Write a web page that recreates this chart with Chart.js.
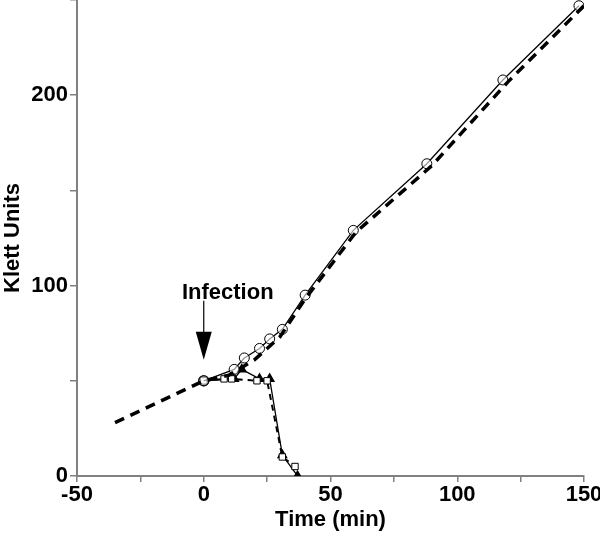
<!DOCTYPE html>
<html>
<head>
<meta charset="utf-8">
<script src="https://cdn.jsdelivr.net/npm/chart.js@4/dist/chart.umd.min.js"></script>
<style>
  html, body { margin: 0; padding: 0; background: #fff; }
  #wrap { width: 600px; height: 537px; }
</style>
</head>
<body>
<div id="wrap"><canvas id="klettChart"></canvas></div>
<script>
// uninfected control (dashed)
const controlTime = [-35, 0, 10, 20, 30, 40, 60, 90, 120, 150];
const controlKlett = [28, 50, 53, 61, 73, 93, 128, 163, 207, 247];

// infected, no lysis (open circles)
const circleTime = [0, 12, 16, 22, 26, 31, 40, 59, 88, 118, 148];
const circleKlett = [50, 56, 62, 67, 72, 77, 95, 129, 164, 208, 247];

// infected, lysis (open squares)
const squareTime = [0, 8, 11, 21, 25, 31, 36];
const squareKlett = [50, 51, 51, 50, 50, 10, 5];

// infected, lysis (filled triangles)
const triangleTime = [0, 12, 15, 22, 26, 31, 37];
const triangleKlett = [50, 51, 56, 51, 51, 11, 0];

const xTicks = [-50, 0, 50, 100, 150];
const yTicks = [0, 100, 200];

// arrow marking infection, in data units
const infectionTime = 0;
const arrowTop = 92;
const arrowTip = 61;

const toPoints = (xs, ys) => xs.map((x, i) => ({ x: x, y: ys[i] }));

const infectionArrow = {
    id: 'infectionArrow',
    afterDatasetsDraw(chart) {
        const ctx = chart.ctx;
        const xs = chart.scales.x, ys = chart.scales.y;
        const x = xs.getPixelForValue(infectionTime);
        const top = ys.getPixelForValue(arrowTop);
        const tip = ys.getPixelForValue(arrowTip);
        ctx.save();
        ctx.strokeStyle = '#000';
        ctx.fillStyle = '#000';
        ctx.lineWidth = 1.2;
        ctx.beginPath();
        ctx.moveTo(x, top);
        ctx.lineTo(x, tip - 20);
        ctx.stroke();
        ctx.beginPath();
        ctx.moveTo(x - 8, tip - 28);
        ctx.lineTo(x + 8, tip - 28);
        ctx.lineTo(x, tip);
        ctx.closePath();
        ctx.fill();
        ctx.font = 'bold 22px "Liberation Sans", Arial, sans-serif';
        ctx.textAlign = 'center';
        ctx.textBaseline = 'bottom';
        ctx.fillText('Infection', x + 24, top + 3);
        ctx.restore();
    }
};

const tickFont = { family: '"Liberation Sans", Arial, sans-serif', size: 22, weight: 'bold' };

new Chart(document.getElementById('klettChart'), {
    type: 'scatter',
    data: {
        datasets: [
            {
                label: 'control',
                data: toPoints(controlTime, controlKlett),
                showLine: true,
                borderColor: '#000',
                borderWidth: 3.5,
                borderDash: [10, 7],
                pointRadius: 0
            },
            {
                label: 'no lysis',
                data: toPoints(circleTime, circleKlett),
                showLine: true,
                borderColor: '#000',
                borderWidth: 1.3,
                pointStyle: 'circle',
                pointRadius: 5,
                pointBorderWidth: 1,
                pointBorderColor: '#000',
                pointBackgroundColor: 'rgba(255,255,255,0.6)'
            },
            {
                label: 'lysis squares',
                data: toPoints(squareTime, squareKlett),
                showLine: true,
                borderColor: '#000',
                borderWidth: 2,
                borderDash: [6, 5],
                pointStyle: 'rect',
                pointRadius: 4.5,
                pointBorderWidth: 1,
                pointBorderColor: '#000',
                pointBackgroundColor: '#fff'
            },
            {
                label: 'lysis triangles',
                data: toPoints(triangleTime, triangleKlett),
                showLine: true,
                borderColor: '#000',
                borderWidth: 1.3,
                pointStyle: ctx => ctx.dataIndex === 0 ? 'circle' : 'triangle',
                pointRadius: 5,
                pointBorderColor: '#000',
                pointBackgroundColor: '#000'
            }
        ]
    },
    options: {
        responsive: true,
        maintainAspectRatio: false,
        animation: false,
        layout: { autoPadding: false, padding: { top: 0, right: 16, left: 0, bottom: 0 } },
        plugins: {
            legend: { display: false },
            tooltip: { enabled: false }
        },
        scales: {
            x: {
                type: 'linear',
                min: -50,
                max: 150,
                border: { color: '#808080', width: 2 },
                grid: { drawOnChartArea: false, tickLength: 6, color: '#808080', lineWidth: 1.5 },
                ticks: {
                    stepSize: 25,
                    color: '#000',
                    font: tickFont,
                    padding: 0,
                    maxRotation: 0,
                    callback: v => xTicks.includes(v) ? String(v) : ''
                },
                title: {
                    display: true,
                    text: 'Time (min)',
                    color: '#000',
                    font: tickFont,
                    padding: { top: 0, bottom: 4 }
                },
                afterFit: scale => {
                    scale.height = 61;
                    scale.paddingLeft = 0;
                    scale.paddingRight = 0;
                }
            },
            y: {
                min: 0,
                max: 250,
                border: { color: '#808080', width: 2 },
                grid: { drawOnChartArea: false, tickLength: 7, color: '#808080', lineWidth: 1.5 },
                ticks: {
                    stepSize: 50,
                    color: '#000',
                    font: tickFont,
                    padding: 2,
                    callback: v => yTicks.includes(v) ? String(v) : ''
                },
                title: {
                    display: true,
                    text: 'Klett Units',
                    color: '#000',
                    font: tickFont,
                    padding: { top: 0, bottom: 2 }
                },
                afterFit: scale => {
                    scale.width = 77;
                    scale.paddingTop = 0;
                    scale.paddingBottom = 0;
                }
            }
        }
    },
    plugins: [infectionArrow]
});
</script>
</body>
</html>
